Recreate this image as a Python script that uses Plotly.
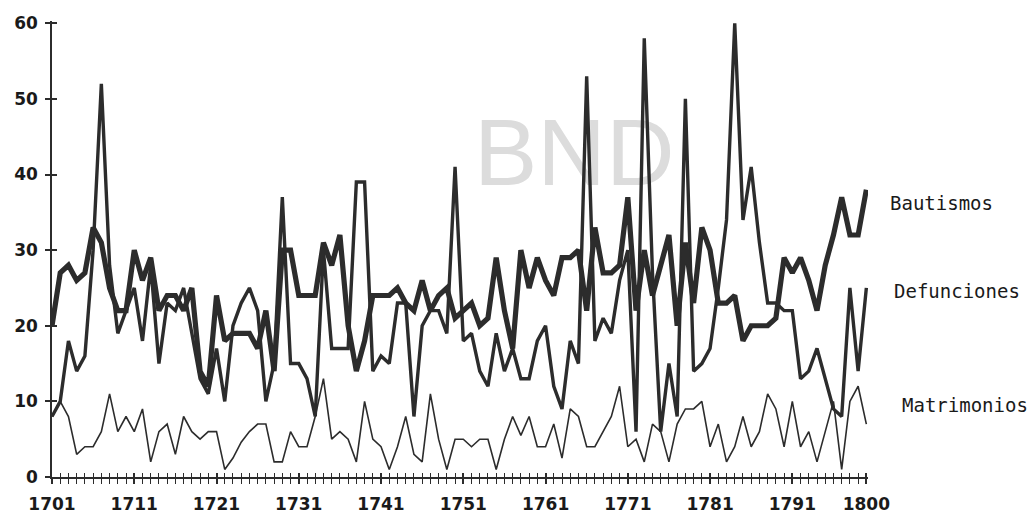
import plotly.graph_objects as go

years = list(range(1701, 1801))

bautismos = [
    20, 27, 28, 26, 27, 33, 31, 25, 22, 22,
    30, 26, 29, 22, 24, 24, 22, 25, 14, 12,
    24, 18, 19, 19, 19, 17, 22, 14, 30, 30,
    24, 24, 24, 31, 28, 32, 20, 14, 18, 24,
    24, 24, 25, 23, 22, 26, 22, 24, 25, 21,
    22, 23, 20, 21, 29, 22, 17, 30, 25, 29,
    26, 24, 29, 29, 30, 22, 33, 27, 27, 28,
    37, 22, 30, 24, 28, 32, 20, 31, 23, 33,
    30, 23, 23, 24, 18, 20, 20, 20, 21, 29,
    27, 29, 26, 22, 28, 32, 37, 32, 32, 38,
]

defunciones = [
    8, 10, 18, 14, 16, 30, 52, 28, 19, 22,
    25, 18, 28, 15, 23, 22, 25, 19, 13, 11,
    17, 10, 20, 23, 25, 22, 10, 15, 37, 15,
    15, 13, 8, 30, 17, 17, 17, 39, 39, 14,
    16, 15, 23, 23, 8, 20, 22, 22, 19, 41,
    18, 19, 14, 12, 19, 14, 17, 13, 13, 18,
    20, 12, 9, 18, 15, 53, 18, 21, 19, 26,
    30, 6, 58, 27, 6, 15, 8, 50, 14, 15,
    17, 25, 34, 60, 34, 41, 31, 23, 23, 22,
    22, 13, 14, 17, 13, 9, 8, 25, 14, 25,
]

matrimonios = [
    8, 10, 8, 3, 4, 4, 6, 11, 6, 8,
    6, 9, 2, 6, 7, 3, 8, 6, 5, 6,
    6, 1, 2.5, 4.6, 6, 7, 7, 2, 2, 6,
    4, 4, 8, 13, 5, 6, 5, 2, 10, 5,
    4, 1, 4, 8, 3, 2, 11, 5, 1, 5,
    5, 4, 5, 5, 1, 5, 8, 5.5, 8, 4,
    4, 7, 2.5, 9, 8, 4, 4, 6, 8, 12,
    4, 5, 2, 7, 6, 2, 7, 9, 9, 10,
    4, 7, 2, 4, 8, 4, 6, 11, 9, 4,
    10, 4, 6, 2, 6, 10, 1, 10, 12, 7,
]

tick_years = [1701, 1711, 1721, 1731, 1741, 1751, 1761, 1771, 1781, 1791, 1800]
y_ticks = [0, 10, 20, 30, 40, 50, 60]
series_names = ["Bautismos", "Defunciones", "Matrimonios"]

ink = "#2c2c2c"
fig = go.Figure()
fig.add_trace(go.Scatter(x=years, y=matrimonios, mode="lines", line=dict(color=ink, width=1.6), name=series_names[2]))
fig.add_trace(go.Scatter(x=years, y=defunciones, mode="lines", line=dict(color=ink, width=3.4), name=series_names[1]))
fig.add_trace(go.Scatter(x=years, y=bautismos, mode="lines", line=dict(color=ink, width=5.2), name=series_names[0]))
# invisible trace to activate overlay axes (ticks crossing the axis lines)
fig.add_trace(go.Scatter(x=[years[0]], y=[None], xaxis="x2", yaxis="y2", showlegend=False, hoverinfo="skip"))

tickfont = dict(family="DejaVu Sans", size=17, color="#1a1a1a", weight="bold")
fig.update_layout(
    width=1030, height=517,
    margin=dict(l=52, r=162, t=21, b=40, autoexpand=False),
    paper_bgcolor="white", plot_bgcolor="white",
    showlegend=False,
    xaxis=dict(range=[1701, 1800.2], showgrid=False, zeroline=False, automargin=False,
               showline=True, linecolor=ink, linewidth=1.5,
               tickmode="array", tickvals=tick_years, ticktext=[str(t) for t in tick_years],
               ticks="outside", ticklen=5, tickwidth=1.5, tickcolor=ink,
               ticklabelstandoff=6,
               minor=dict(dtick=1, tick0=1701, ticks="outside", ticklen=5, tickwidth=1.2, tickcolor=ink),
               tickfont=tickfont),
    yaxis=dict(range=[0, 60.3], showgrid=False, zeroline=False, automargin=False,
               showline=True, linecolor=ink, linewidth=1.5,
               tickvals=y_ticks, ticks="outside", ticklen=5, tickwidth=1.5, tickcolor=ink,
               ticklabelstandoff=4,
               tickfont=tickfont),
    xaxis2=dict(range=[1701, 1800.2], overlaying="x", showgrid=False, zeroline=False,
                automargin=False, showticklabels=False, tickvals=tick_years, ticks="inside",
                ticklen=4, tickwidth=1.5, tickcolor=ink,
                minor=dict(dtick=1, tick0=1701, ticks="inside", ticklen=4, tickwidth=1.2, tickcolor=ink),
                side="bottom"),
    yaxis2=dict(range=[0, 60.3], overlaying="y", showgrid=False, zeroline=False,
                automargin=False, showticklabels=False, tickvals=y_ticks, ticks="inside",
                ticklen=5, tickwidth=1.5, tickcolor=ink),
)

labfont = dict(family="DejaVu Sans Mono", size=19, color="#1a1a1a")
for name, lx, ly in [(series_names[0], 1.0245, 0.601),
                     (series_names[1], 1.029, 0.408),
                     (series_names[2], 1.039, 0.158)]:
    fig.add_annotation(x=lx, y=ly, xref="paper", yref="paper", text=name,
                       showarrow=False, xanchor="left", yanchor="middle", font=labfont)

fig.add_shape(type="rect", xref="paper", yref="paper", x0=0.54, x1=0.74, y0=0.633, y1=0.833,
              line=dict(width=0), fillcolor="rgba(0,0,0,0)", layer="below",
              label=dict(text="BND", textposition="middle center",
                         font=dict(family="Liberation Sans", size=95, color="#dcdcdc")))

fig.write_html("out.html", config={"displayModeBar": False},
               post_script="document.body.style.margin='0';document.body.style.overflow='hidden';")
